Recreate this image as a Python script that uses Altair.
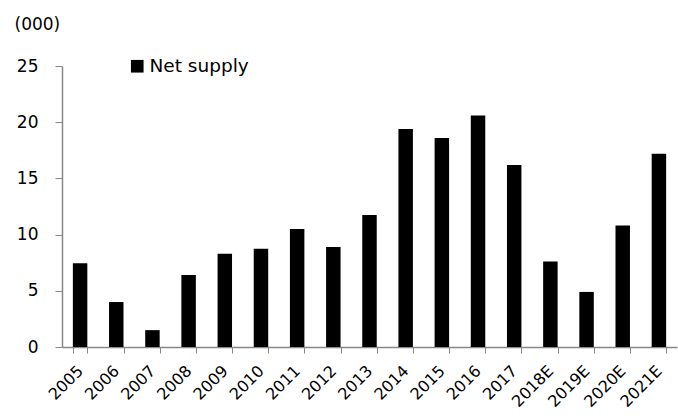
import altair as alt
import pandas as pd

years = ["2005", "2006", "2007", "2008", "2009", "2010", "2011", "2012", "2013",
         "2014", "2015", "2016", "2017", "2018E", "2019E", "2020E", "2021E"]
net_supply = [7.45, 4.0, 1.5, 6.4, 8.3, 8.75, 10.5, 8.9, 11.75,
              19.4, 18.6, 20.6, 16.2, 7.6, 4.9, 10.8, 17.2]
series_name = ["Net supply"] * len(years)

df = pd.DataFrame({"year": years, "value": net_supply, "series": series_name})

FONT = "DejaVu Sans"
FS = 17

chart = alt.Chart(df).mark_bar(color="black").encode(
    x=alt.X("year:N", sort=years, title=None,
            scale=alt.Scale(paddingInner=0.6, paddingOuter=0.3),
            axis=alt.Axis(labelAngle=-45, labelAlign="right", labelBaseline="middle",
                          tickBand="extent", tickSize=6, labelPadding=15,
                          domainColor="#888888", tickColor="#888888", domainWidth=1.5,
                          labelFont=FONT, labelFontSize=16, labelColor="black")),
    y=alt.Y("value:Q", scale=alt.Scale(domain=[0, 25]),
            axis=alt.Axis(values=[0, 5, 10, 15, 20, 25], grid=False, tickSize=7,
                          labelPadding=17, domainColor="#888888", tickColor="#888888",
                          domainWidth=1.5,
                          labelFont=FONT, labelFontSize=FS, labelColor="black",
                          title="(000)", titleAngle=0, titleAlign="left",
                          titleBaseline="middle", titleX=-48, titleY=-42,
                          titleFont=FONT, titleFontSize=FS, titleFontWeight="normal",
                          titleColor="black")),
    color=alt.Color("series:N", scale=alt.Scale(range=["black"]),
                    legend=alt.Legend(title=None, orient="none", legendX=66, legendY=-9,
                                      symbolType="square", symbolSize=160,
                                      symbolStrokeWidth=0,
                                      labelFont=FONT, labelFontSize=18.5, labelColor="black",
                                      labelOffset=3)),
).properties(
    width=615, height=281,
    autosize=alt.AutoSizeParams(type="none"),
    padding={"left": 62, "top": 66, "right": 1, "bottom": 69},
).configure_view(stroke=None)

chart.save("out.html", embed_options={"renderer": "svg", "actions": False})
